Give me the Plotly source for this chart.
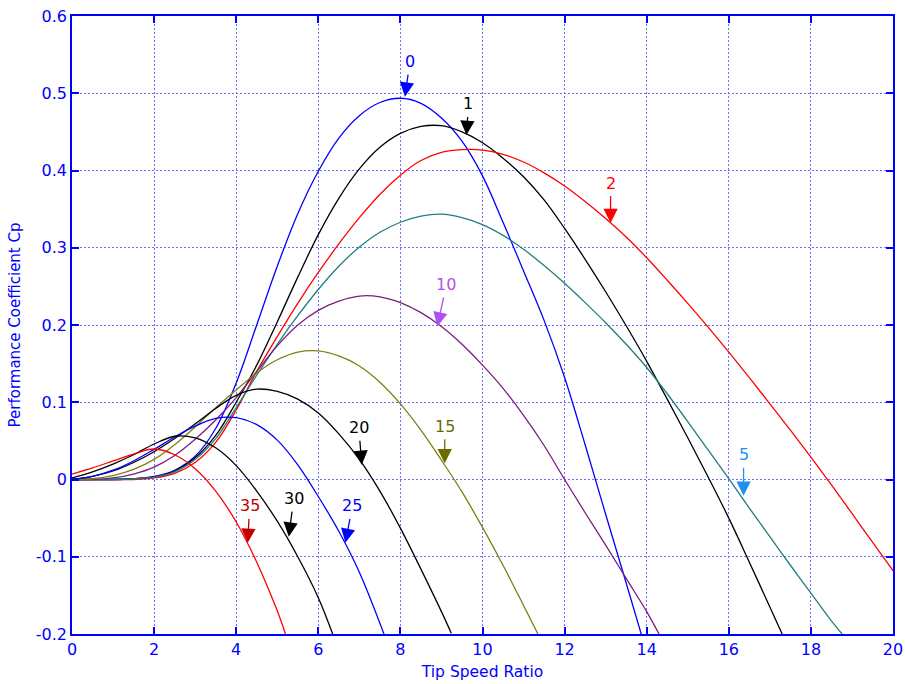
import plotly.graph_objects as go

# ---- data ----
beta0_x = [0, 0.5, 1, 1.5, 2, 2.5, 3, 3.5, 4, 4.5, 5, 5.5, 6, 6.5, 7, 7.5, 8, 8.5, 9, 9.5, 10, 10.5, 11, 11.5, 12, 12.5, 13, 13.5, 13.9]
beta0_y = [0, 0, 0, 0.001, 0.004, 0.012, 0.03, 0.066, 0.125, 0.2, 0.276, 0.344, 0.399, 0.442, 0.471, 0.488, 0.4935, 0.487, 0.468, 0.438, 0.393, 0.333, 0.27, 0.206, 0.132, 0.045, -0.045, -0.134, -0.206]

beta1_x = [0, 0.5, 1, 1.5, 2, 2.5, 3, 3.5, 4, 4.5, 5, 5.5, 6, 6.5, 7, 7.5, 8, 8.5, 9, 9.5, 10, 10.5, 11, 11.5, 12, 12.5, 13, 13.5, 14, 14.5, 15, 15.5, 16, 16.5, 17, 17.3]
beta1_y = [0, 0, 0, 0.001, 0.003, 0.011, 0.028, 0.057, 0.1, 0.148, 0.204, 0.262, 0.317, 0.364, 0.402, 0.43, 0.448, 0.457, 0.458, 0.45, 0.436, 0.416, 0.392, 0.362, 0.325, 0.285, 0.243, 0.199, 0.153, 0.104, 0.054, 0.003, -0.05, -0.107, -0.165, -0.2]

beta2_x = [0, 0.5, 1, 1.5, 2, 2.5, 3, 3.5, 4, 4.5, 5, 5.5, 6, 6.5, 7, 7.5, 8, 8.5, 9, 9.5, 10, 10.5, 11, 11.5, 12, 12.5, 13, 13.5, 14, 14.5, 15, 15.5, 16, 16.5, 17, 17.5, 18, 18.5, 19, 19.5, 20]
beta2_y = [0, 0, 0, 0, 0.002, 0.008, 0.022, 0.048, 0.09, 0.14, 0.185, 0.228, 0.268, 0.305, 0.339, 0.369, 0.394, 0.413, 0.4235, 0.427, 0.4265, 0.421, 0.411, 0.397, 0.38, 0.36, 0.338, 0.314, 0.287, 0.258, 0.228, 0.197, 0.165, 0.132, 0.098, 0.064, 0.029, -0.007, -0.044, -0.081, -0.118]

beta5_x = [0, 0.5, 1, 1.5, 2, 2.5, 3, 3.5, 4, 4.5, 5, 5.5, 6, 6.5, 7, 7.5, 8, 8.5, 9, 9.5, 10, 10.5, 11, 11.5, 12, 12.5, 13, 13.5, 14, 14.5, 15, 15.5, 16, 16.5, 17, 17.5, 18, 18.5, 18.76]
beta5_y = [0, 0, 0, 0.001, 0.003, 0.01, 0.026, 0.053, 0.093, 0.135, 0.175, 0.212, 0.246, 0.276, 0.301, 0.32, 0.333, 0.341, 0.3435, 0.339, 0.33, 0.316, 0.298, 0.277, 0.254, 0.229, 0.203, 0.175, 0.145, 0.111, 0.075, 0.038, 0.001, -0.037, -0.074, -0.111, -0.147, -0.183, -0.2]

beta10_x = [0, 0.5, 1, 1.5, 2, 2.5, 3, 3.5, 4, 4.5, 5, 5.5, 6, 6.5, 7, 7.5, 8, 8.5, 9, 9.5, 10, 10.5, 11, 11.5, 12, 12.5, 13, 13.5, 14, 14.3]
beta10_y = [0, 0, 0.002, 0.007, 0.016, 0.031, 0.052, 0.077, 0.106, 0.14, 0.173, 0.2, 0.219, 0.231, 0.2375, 0.2365, 0.229, 0.216, 0.198, 0.175, 0.148, 0.118, 0.083, 0.044, 0, -0.043, -0.085, -0.128, -0.171, -0.2]

beta15_x = [0, 0.5, 1, 1.5, 2, 2.5, 3, 3.5, 4, 4.5, 5, 5.5, 6, 6.5, 7, 7.5, 8, 8.5, 9, 9.5, 10, 10.5, 11, 11.35]
beta15_y = [0, 0.001, 0.005, 0.013, 0.026, 0.045, 0.068, 0.093, 0.116, 0.138, 0.155, 0.165, 0.1665, 0.16, 0.147, 0.126, 0.098, 0.064, 0.025, -0.016, -0.062, -0.111, -0.163, -0.2]

beta20_x = [0, 0.5, 1, 1.5, 2, 2.5, 3, 3.5, 4, 4.5, 5, 5.5, 6, 6.5, 7, 7.5, 8, 8.5, 9, 9.24]
beta20_y = [0, 0.004, 0.011, 0.022, 0.036, 0.053, 0.072, 0.092, 0.109, 0.117, 0.114, 0.104, 0.086, 0.059, 0.026, -0.015, -0.063, -0.116, -0.171, -0.199]

beta25_x = [0, 0.5, 1, 1.5, 2, 2.5, 3, 3.5, 4, 4.5, 5, 5.5, 6, 6.5, 7, 7.6]
beta25_y = [0, 0.004, 0.012, 0.024, 0.039, 0.055, 0.069, 0.079, 0.08, 0.071, 0.051, 0.019, -0.022, -0.067, -0.12, -0.2]

beta30_x = [0, 0.5, 1, 1.5, 2, 2.5, 3, 3.5, 4, 4.5, 5, 5.5, 6, 6.35]
beta30_y = [0.002, 0.01, 0.02, 0.032, 0.046, 0.056, 0.054, 0.041, 0.018, -0.015, -0.054, -0.1, -0.153, -0.2]

beta35_x = [0, 0.5, 1, 1.5, 2, 2.5, 3, 3.5, 4, 4.5, 5, 5.2]
beta35_y = [0.007, 0.015, 0.024, 0.033, 0.0395, 0.032, 0.014, -0.015, -0.055, -0.107, -0.17, -0.2]

pitch_labels = ["0", "1", "2", "5", "10", "15", "20", "25", "30", "35"]
curve_x = [beta0_x, beta1_x, beta2_x, beta5_x, beta10_x, beta15_x, beta20_x, beta25_x, beta30_x, beta35_x]
curve_y = [beta0_y, beta1_y, beta2_y, beta5_y, beta10_y, beta15_y, beta20_y, beta25_y, beta30_y, beta35_y]
line_colors = ["#0000FF", "#000000", "#FF0000", "#1F7F7F", "#7A1F7F", "#7F7F10",
               "#000000", "#0000FF", "#000000", "#FF0000"]

# label arrow tips (x, y on the curve) and label colours
label_tip_x = [8.11, 9.61, 13.12, 16.36, 8.9, 9.08, 7.06, 6.66, 5.28, 4.28]
label_tip_y = [0.4956, 0.446, 0.332, -0.021, 0.198, 0.021, 0.019, -0.082, -0.074, -0.082]
label_dx = [5, 2, 0, 0, 9, 0, -3, 7, 5, 2]
label_dy = [-35, -31, -40, -41, -42, -37, -37, -37, -38, -37]
label_colors = ["#0000FF", "#000000", "#FF0000", "#1E90F0", "#B050F0", "#6B6B00",
                "#000000", "#0000FF", "#000000", "#C00000"]

x_ticks = [0, 2, 4, 6, 8, 10, 12, 14, 16, 18, 20]
y_ticks = [-0.2, -0.1, 0, 0.1, 0.2, 0.3, 0.4, 0.5, 0.6]
y_tick_text = ["-0.2", "-0.1", "0", "0.1", "0.2", "0.3", "0.4", "0.5", "0.6"]

FONT = "DejaVu Sans"

fig = go.Figure()
for xs, ys, col, name in zip(curve_x, curve_y, line_colors, pitch_labels):
    fig.add_trace(go.Scatter(x=xs, y=ys, mode="lines", name=name,
                             line=dict(color=col, width=1.3, shape="spline", smoothing=1.0),
                             showlegend=False, hoverinfo="skip"))

for tx, ty, dx, dy, txt, col in zip(label_tip_x, label_tip_y, label_dx, label_dy, pitch_labels, label_colors):
    fig.add_annotation(x=tx, y=ty, text=txt, showarrow=True, ax=dx, ay=dy,
                       arrowhead=2, arrowsize=2.2, arrowwidth=1.3, arrowcolor=col,
                       standoff=0, startstandoff=2,
                       font=dict(family=FONT, size=16, color=col))

axis_common = dict(showline=True, linecolor="#0000FF", linewidth=1.5, mirror="ticks",
                   ticks="inside", ticklen=7, tickcolor="#0000FF", tickwidth=1.5,
                   showgrid=True, gridcolor="#7070FF", gridwidth=1, griddash="2px,2px",
                   zeroline=False, automargin=False, ticklabeloverflow="allow",
                   tickfont=dict(family=FONT, size=16, color="#0000FF"))

fig.update_xaxes(range=[0, 20], tickvals=x_ticks, **axis_common,
                 title=dict(text="Tip Speed Ratio", standoff=8,
                            font=dict(family=FONT, size=15.5, color="#0000FF")))
fig.update_yaxes(range=[-0.2, 0.6], tickvals=y_ticks, ticktext=y_tick_text, **axis_common,
                 title=dict(text="Performance Coefficient Cp", standoff=12,
                            font=dict(family=FONT, size=15, color="#0000FF")))

fig.update_layout(width=905, height=684, margin=dict(l=72, r=12, t=16, b=50),
                  plot_bgcolor="white", paper_bgcolor="white")

fig.write_html("out.html")
